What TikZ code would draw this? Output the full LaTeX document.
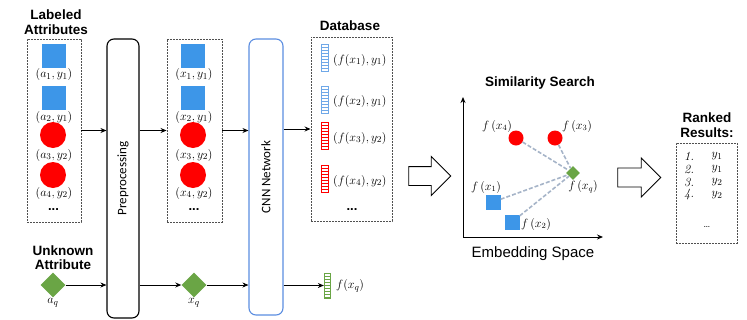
\documentclass[tikz,border=0pt]{standalone}
\usepackage{fontspec}
\newfontfamily\hdfont{Liberation Sans}
\newfontfamily\cbfont{Carlito}
\usetikzlibrary{arrows.meta,shapes.geometric,shapes.arrows}
\definecolor{sqblue}{HTML}{3D96E8}
\definecolor{barblue}{HTML}{6FA8E8}
\definecolor{cred}{HTML}{FF0000}
\definecolor{dgreen}{HTML}{6AA545}
\definecolor{cnnblue}{HTML}{5B8DE0}
\definecolor{dashgray}{HTML}{A6B4C8}
\definecolor{boxgray}{HTML}{505050}
\begin{document}
\begin{tikzpicture}[x=1pt,y=-1pt,
  title/.style={font=\hdfont\bfseries\fontsize{13.5}{14.5}\selectfont, align=center, inner sep=0},
  mlab/.style={font=\fontsize{12}{14}\selectfont, inner sep=0},
  alab/.style={font=\fontsize{13}{14}\selectfont, inner sep=0},
  dblab/.style={font=\fontsize{12.5}{14}\selectfont, inner sep=0, anchor=west},
  dbox/.style={draw=boxgray, line width=0.9, dash pattern=on 2pt off 1pt, inner sep=0},
  sq/.style={rectangle, fill=sqblue, minimum size=#1, inner sep=0},
  rc/.style={circle, fill=cred, minimum size=#1, inner sep=0},
  gd/.style={diamond, fill=dgreen, minimum size=#1, inner sep=0, aspect=1},
  vbox/.style={draw=#1, rounded corners=7, line width=1.1, minimum width=32, inner sep=0},
  arr/.style={-{Stealth[length=6pt,width=5pt]}, line width=0.9},
  bar/.style={draw=#1, line width=0.8, fill=white, minimum width=6.5, minimum height=27, inner sep=0,
    path picture={\foreach \k in {1,...,8}{\draw[#1, line width=0.6] ([yshift=-\k*3pt]path picture bounding box.north west) -- ([yshift=-\k*3pt]path picture bounding box.north east);}}},
  sim/.style={draw=dashgray, line width=1.6, dash pattern=on 4pt off 2pt},
  harrow/.style={single arrow, draw=black, line width=0.9, fill=white, inner sep=9pt, single arrow head extend=10pt, single arrow tip angle=90},
  dots/.style={font=\hdfont\bfseries\fontsize{13}{14}\selectfont, inner sep=0}
]
\useasboundingbox (0,0) rectangle (747,319);

% ---------- labeled attributes ----------
\node[title] (tLab) at (56,22) {Labeled\\Attributes};
\node[dbox, minimum width=54, minimum height=183] (b1) at (54,130.5) {};
\node[sq=24] (a1) at (53.5,56) {};
\node[alab] (la1) at (54,74.5) {$(a_1,y_1)$};
\node[sq=24] (a2) at (53.5,98) {};
\node[alab] (la2) at (54,117) {$(a_2,y_1)$};
\node[rc=26] (a3) at (53,135) {};
\node[alab] (la3) at (54,155) {$(a_3,y_2)$};
\node[rc=26] (a4) at (53,175) {};
\node[alab] (la4) at (54,193) {$(a_4,y_2)$};
\node[dots] (d1) at (53.5,210) {...};

% ---------- unknown attribute ----------
\node[title] (tUnk) at (63,257.5) {Unknown\\Attribute};
\node[gd=25] (aq) at (53,285) {};
\node[alab] (laq) at (53,303) {$a_q$};

% ---------- preprocessing ----------
\node[vbox=black, minimum height=279] (pre) at (123,178.5) {};
\node[rotate=90, font=\cbfont\fontsize{13}{14}\selectfont] (tpre) at (pre.center) {Preprocessing};

% ---------- preprocessed set ----------
\node[dbox, minimum width=55, minimum height=183] (b2) at (194.5,130.5) {};
\node[sq=24] (x1) at (193,56) {};
\node[alab] (lx1) at (194,74.5) {$(x_1,y_1)$};
\node[sq=24] (x2) at (193,98) {};
\node[alab] (lx2) at (194,117) {$(x_2,y_1)$};
\node[rc=26] (x3) at (193,135) {};
\node[alab] (lx3) at (194,155) {$(x_3,y_2)$};
\node[rc=26] (x4) at (193,175) {};
\node[alab] (lx4) at (194,193) {$(x_4,y_2)$};
\node[dots] (d2) at (194,210) {...};
\node[gd=25] (xq) at (194,285) {};
\node[alab] (lxq) at (194,303) {$x_q$};

% ---------- CNN ----------
\node[vbox=cnnblue, minimum height=276, minimum width=34] (cnn) at (266,177) {};
\node[rotate=90, font=\cbfont\fontsize{13}{14}\selectfont] (tcnn) at (cnn.center) {CNN Network};

% ---------- database ----------
\node[title] (tdb) at (350,26) {Database};
\node[dbox, minimum width=81, minimum height=184] (db) at (351.5,129) {};
\node[bar=barblue] (e1) at (325,57.5) {};
\node[dblab] (le1) at (333,60) {$(f(x_1),y_1)$};
\node[bar=barblue] (e2) at (325,99.5) {};
\node[dblab] (le2) at (333,101) {$(f(x_2),y_1)$};
\node[bar=cred] (e3) at (325,135.5) {};
\node[dblab] (le3) at (333,138) {$(f(x_3),y_2)$};
\node[bar=cred] (e4) at (325,179) {};
\node[dblab] (le4) at (333,181) {$(f(x_4),y_2)$};
\node[dots] (d3) at (352,210) {...};
\node[bar=dgreen, minimum height=25] (eq) at (327.5,285.5) {};
\node[dblab] (leq) at (336,286) {$f(x_q)$};

% ---------- arrows left part ----------
\draw[arr] (b1.east) -- (b1.east -| pre.west);
\draw[arr] (pre.east |- b2.west) -- (b2.west);
\draw[arr] (b2.east) -- (b2.east -| cnn.west);
\draw[arr] (cnn.east |- db.west) -- (db.west);
\draw[arr] (aq.east) -- (aq.east -| pre.west);
\draw[arr] (pre.east |- xq.west) -- (xq.west);
\draw[arr] (xq.east) -- (xq.east -| cnn.west);
\draw[arr] (cnn.east |- eq.west) -- (eq.west);

% ---------- hollow arrows ----------
\node[harrow, minimum height=42, minimum width=38] (h1) at (425,176) {};
\node[harrow, minimum height=43, minimum width=39] (h2) at (634.5,177.5) {};

% ---------- similarity search ----------
\node[title] (tsim) at (540,83) {Similarity Search};
\coordinate (O) at (463,237);
\coordinate (Ytop) at (463,97);
\coordinate (Xend) at (603,237);
\draw[arr] (O) -- (Ytop);
\draw[arr] (O) -- (Xend);
\node[font=\hdfont\fontsize{15}{16}\selectfont, inner sep=0] (temb) at (533,254) {Embedding Space};
\node[rc=15] (p4) at (516,138) {};
\node[rc=15] (p3) at (555,138) {};
\node[gd=14] (pq) at (573,173) {};
\node[sq=15] (p1) at (493,202) {};
\node[sq=15] (p2) at (512,222) {};
\draw[sim] (p4) -- (pq);
\draw[sim] (p3) -- (pq);
\draw[sim] (p1) -- (pq);
\draw[sim] (p2) -- (pq);
\node[mlab] (lp4) at (497,126) {$f\,(x_4)$};
\node[mlab] (lp3) at (577,126) {$f\,(x_3)$};
\node[mlab] (lpq) at (583,187) {$f\,(x_q)$};
\node[mlab] (lp1) at (486,187) {$f\,(x_1)$};
\node[mlab] (lp2) at (536,224) {$f\,(x_2)$};

% ---------- ranked results ----------
\node[title] (trank) at (707,125) {Ranked\\Results:};
\node[dbox, minimum width=61, minimum height=100] (rk) at (706.5,193) {};
\foreach \i/\yy/\lab in {1/156/1,2/169/1,3/182/2,4/195/2}{
  \node[font=\fontsize{12.5}{14}\selectfont\itshape, inner sep=0] (n\i) at (689,\yy) {\i.};
  \node[alab] (r\i) at (717,\yy) {$y_{\lab}$};
}
\node[font=\fontsize{11}{12}\selectfont, inner sep=0] (rdots) at (707,227) {\dots};
\end{tikzpicture}
\end{document}
